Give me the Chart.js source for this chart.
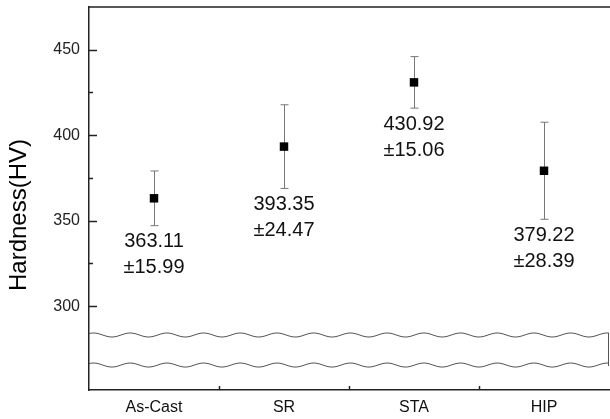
<!DOCTYPE html>
<html>
<head>
<meta charset="utf-8">
<script src="https://cdn.jsdelivr.net/npm/chart.js@4"></script>
<style>
  body { margin: 0; background: #fff; }
  canvas { display: block; }
</style>
</head>
<body>
<canvas id="chart" width="610" height="419"></canvas>
<script>
//-------------------- DATA --------------------
const categories = ['As-Cast', 'SR', 'STA', 'HIP'];
const hardness = [363.11, 393.35, 430.92, 379.22];
const errors = [15.99, 24.47, 15.06, 28.39];
const yTicks = [300, 350, 400, 450];
const yMinorTicks = [325, 375, 425];
// axis break drawn as two wavy lines at these values
const breakValues = [283.17, 265.6];

const FONT = '"Liberation Sans", Arial, sans-serif';
const AXIS = '#222';

//-------------------- PLUGIN: error bars, labels, ticks, break --------------------
const decorations = {
  id: 'decorations',
  beforeDatasetsDraw(chart) {
    const ctx = chart.ctx;
    const x = chart.scales.x, y = chart.scales.y;
    ctx.save();
    ctx.strokeStyle = '#777';
    ctx.lineWidth = 1;
    hardness.forEach((v, i) => {
      const px = Math.round(x.getPixelForValue(i)) + 0.5;
      const top = y.getPixelForValue(v + errors[i]);
      const bot = y.getPixelForValue(v - errors[i]);
      ctx.beginPath();
      ctx.moveTo(px, top); ctx.lineTo(px, bot);
      ctx.moveTo(px - 4, top); ctx.lineTo(px + 4, top);
      ctx.moveTo(px - 4, bot); ctx.lineTo(px + 4, bot);
      ctx.stroke();
    });
    ctx.restore();
  },
  afterDraw(chart) {
    const ctx = chart.ctx;
    const area = chart.chartArea;
    const x = chart.scales.x, y = chart.scales.y;
    ctx.save();

    // value labels under each error bar
    ctx.fillStyle = '#111';
    ctx.font = '20px ' + FONT;
    ctx.textAlign = 'center';
    ctx.textBaseline = 'middle';
    hardness.forEach((v, i) => {
      const px = x.getPixelForValue(i);
      const bot = y.getPixelForValue(v - errors[i]);
      ctx.fillText(v.toFixed(2), px, bot + 16);
      ctx.fillText('\u00B1' + errors[i].toFixed(2), px, bot + 42);
    });

    // inward tick marks
    ctx.strokeStyle = AXIS;
    ctx.lineWidth = 1.5;
    ctx.beginPath();
    yTicks.forEach(v => {
      const py = Math.round(y.getPixelForValue(v)) + 0.5;
      ctx.moveTo(area.left, py); ctx.lineTo(area.left + 8, py);
    });
    yMinorTicks.forEach(v => {
      const py = Math.round(y.getPixelForValue(v)) + 0.5;
      ctx.moveTo(area.left, py); ctx.lineTo(area.left + 4, py);
    });
    for (let i = 0; i < categories.length - 1; i++) {
      const px = Math.round((x.getPixelForValue(i) + x.getPixelForValue(i + 1)) / 2) + 0.5;
      ctx.moveTo(px, area.bottom); ctx.lineTo(px, area.bottom - 4);
    }
    // top frame line
    ctx.moveTo(area.left, area.top); ctx.lineTo(chart.width, area.top);
    ctx.stroke();

    // axis break
    const b1 = y.getPixelForValue(breakValues[0]);
    const b2 = y.getPixelForValue(breakValues[1]);
    ctx.fillStyle = '#fff';
    ctx.fillRect(area.left + 1, b1, area.right - area.left - 1, b2 - b1);
    ctx.strokeStyle = '#555';
    ctx.lineWidth = 1;
    [b1, b2].forEach(base => {
      ctx.beginPath();
      for (let px = area.left; px <= area.right; px += 1) {
        const py = base - 2 * Math.cos(2 * Math.PI * (px - 93.5) / 36.7);
        if (px === area.left) ctx.moveTo(px, py); else ctx.lineTo(px, py);
      }
      ctx.stroke();
    });
    ctx.beginPath();
    ctx.moveTo(area.right - 0.5, b1 - 2); ctx.lineTo(area.right - 0.5, b2 + 1);
    ctx.stroke();

    // y axis title
    ctx.fillStyle = '#000';
    ctx.font = '24px ' + FONT;
    ctx.textAlign = 'center';
    ctx.textBaseline = 'middle';
    ctx.translate(19, 215);
    ctx.rotate(-Math.PI / 2);
    ctx.fillText('Hardness(HV)', 0, 0);
    ctx.restore();
  }
};

//-------------------- CONFIG --------------------
const config = {
  type: 'line',
  data: {
    labels: categories,
    datasets: [{
      data: hardness,
      showLine: false,
      pointStyle: 'rect',
      pointRadius: 6,
      pointBorderWidth: 0,
      pointBackgroundColor: '#000',
      pointBorderColor: '#000'
    }]
  },
  options: {
    responsive: false,
    animation: false,
    layout: { autoPadding: false, padding: { top: 7, right: 1, bottom: 0, left: 0 } },
    plugins: {
      legend: { display: false },
      tooltip: { enabled: false }
    },
    scales: {
      x: {
        offset: true,
        grid: { display: false, drawTicks: false },
        border: { display: true, color: AXIS, width: 1.5 },
        ticks: { color: '#111', padding: 8, font: { family: FONT, size: 16 } },
        afterFit(scale) {
          scale.height = 29;
          scale.paddingLeft = 0;
          scale.paddingRight = 0;
        }
      },
      y: {
        min: 251,
        max: 475,
        afterBuildTicks(scale) { scale.ticks = yTicks.map(v => ({ value: v })); },
        grid: { display: false, drawTicks: false },
        border: { display: true, color: AXIS, width: 1.5 },
        ticks: { color: '#222', padding: 9, font: { family: FONT, size: 16 } },
        afterFit(scale) {
          scale.width = 89;
          scale.paddingTop = 0;
          scale.paddingBottom = 0;
        }
      }
    }
  },
  plugins: [decorations]
};

//-------------------- RENDER --------------------
const myChart = new Chart(document.getElementById('chart'), config);
</script>
</body>
</html>
